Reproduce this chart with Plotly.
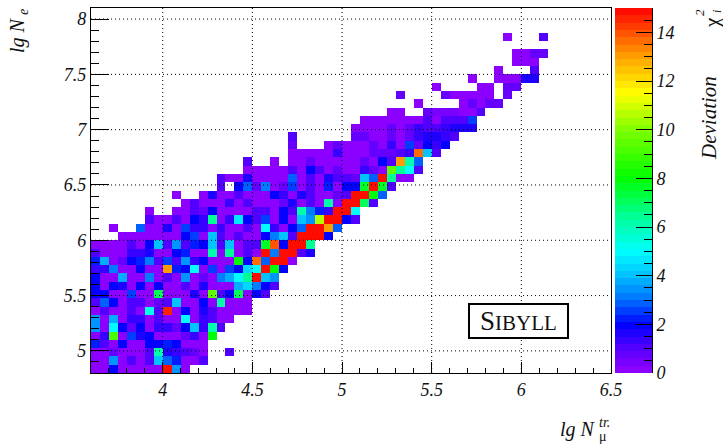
import plotly.graph_objects as go

v = 0.12
N = None

# lg N_mu (x) bins: 3.6 + 0.05*i, lg N_e (y) bins: 4.8 + 0.075*j. Rows run bottom to top.
x_start, x_step, x_end = 3.6, 0.05, 6.5
y_start, y_step, y_end = 4.8, 0.075, 8.1

first_col = [0,0,0,0,0,0,0,0,0,0,0,0,0,0,0,0,3,2,6,6,10,9,14,14,17,17,22,22,22,29,30,33,36,34,38,42,45,47,47,47,46]

cell_values = [
 [v,v,1.8,v,v,v,v,v,15,3.5,v],
 [v,v,3.3,v,1,v,1,4,2.8,2.3,v,v,1],
 [v,v,.8,v,v,v,1,6,1.6,1.2,1,.7,v,N,N,1],
 [2.3,1,v,2,v,v,1.9,1.9,2.3,1.8,v,v,v],
 [v,1.2,9,v,2.4,1.6,2,v,v,v,.7,1.2,v,8],
 [3.5,v,4.8,1.8,.8,2,v,1.2,1.3,.8,2,4,1.2,6,1],
 [3.5,v,3.8,v,1.3,1.3,v,1.1,v,v,5,v,1.2,1,v,v],
 [v,1.1,v,v,.9,v,5.2,1,14.5,v,1.9,v,1.7,1,v,v,v,v],
 [1,2.8,1.9,v,1,.9,v,.8,1,4,v,v,1.9,v,6,v,v,v],
 [2,2,v,v,2.5,v,v,7,v,v,v,1.7,v,9.5,1,1.8,7,v,2,1],
 [2,v,1.9,1.5,v,1.8,v,1.9,v,v,1,v,1.5,v,v,v,3.7,4.2,3,1.8,1],
 [2,v,v,3.6,v,v,3,v,1,v,3.3,v,.8,v,3,3.8,5,6.5,15,4,3.5],
 [1.2,1.2,3,v,v,2,v,v,13,2.3,1.8,5,v,2.5,v,2.6,2,4.2,5,15,8,1.9],
 [2.2,3.8,v,.8,2,2.2,3,1,2.5,1,3.5,1.3,2,v,v,v,8,2,13.5,2.7,15,15,v],
 [1,v,v,v,1.2,1.3,1.7,v,v,2,2.3,v,v,6,v,6.5,v,1,v,15,3.2,15,15,1,1.5],
 [v,v,v,v,1.1,v,2,4,.9,3.3,1,2.3,2,4,1,4,v,1,1,7.5,14,2,15,15,6.5],
 [v,v,v,v,v,v,v,1.8,2.5,v,4,1,v,.9,v,v,1.9,3,4,1,15,15,15,1.9],
 [v,N,N,2.8,v,v,1.7,v,2.5,1.2,1.3,v,1.4,v,v,1.1,v,5,1.2,v,2,2.7,15,15,13,2.8],
 [1,v,v,1,v,1.9,1.2,6.5,v,1.2,4.5,1.8,1,2.6,v,1.8,v,4,3.5,10.5,15,15,2,1],
 [v,N,N,v,v,.9,.8,1.9,v,v,v,v,1,1,v,2,1,6,3,2.3,1.2,15,15,5],
 [v,1,v,v,v,1.2,v,1,v,v,v,.7,1.5,v,.9,v,6,v,15,15,7,1],
 [v,N,N,v,1.5,v,v,1,v,v,v,1.8,1.2,v,1.7,1.1,v,v,.8,1.1,15,15,8,2.8],
 [1,N,1.9,2.7,.8,3,v,.8,2.5,v,1.1,v,2.2,v,1.9,2,7.8,15,7.5,.9],
 [1.1,v,v,1.5,v,v,v,v,2.7,v,1,v,1.5,1,1,.8,4,2.7,15,6.5,v,v],
 [v,v,v,v,v,1,v,1.9,.9,v,.8,v,v,1.2,.7,v,9.5,6.5,5,1],
 [1,N,N,v,N,v,v,.8,v,v,v,v,v,.8,v,2,1,13,6,2.8],
 [v,v,v,v,v,1.4,v,v,v,.8,.8,.6,1,1.3,13.5,4,1],
 [.8,N,N,N,v,.8,v,v,v,.7,v,1.2,v,2.5,.8,2,1.3,2],
 [1,N,N,N,N,N,N,.8,.8,v,v,.7,v,.8,1.3,1.6,1.7,1.3,1.1],
 [v,v,v,v,.8,v,.7,1.2,.9,1,1.3,1.5,1.7,1.5],
 [v,v,v,v,v,v,v,.9,v,1.1,.9,.9,2.6],
 [v,v,N,N,.7,.5,.5,.5,v,v,1],
 [v,N,N,N,N,v,.7,v,.8,.8],
 [.7,N,N,N,N,.7,v,v,v,v,v,N,.8],
 [v,N,N,N,N,v,v,N,.8,.8],
 [v,N,N,v,v,v,1.6,1.6],
 [v,N,N,N,1],
 [v,v,v],
 [v,v,.7,.8],
 [],
 [v,N,N,N,.9],
]

x_ticks = [4, 4.5, 5, 5.5, 6, 6.5]
y_ticks = [5, 5.5, 6, 6.5, 7, 7.5, 8]
scale_ticks = [0, 2, 4, 6, 8, 10, 12, 14]
scale_max = 15
scale_bands = 50

palette_values = [0, 1, 2, 3, 4, 5, 6.5, 8, 10, 11.5, 13, 15]
palette_colors = [(148,0,255),(85,0,255),(0,0,255),(0,112,255),(0,192,255),(0,255,255),
                  (0,255,144),(0,255,0),(128,255,0),(255,255,0),(255,160,0),(255,0,0)]

W, H = 723, 445
ML, MR, MT, MB = 91, 71, 8, 72
PW, PH = W - ML - MR, H - MT - MB
def px(p): return (p - ML) / PW
def py(p): return 1 - (p - MT) / PH

n_rows = round((y_end - y_start) / y_step)
n_cols = round((x_end - x_start) / x_step)
z = [[None] * n_cols for _ in range(n_rows)]
for j, (start, vals) in enumerate(zip(first_col, cell_values)):
    for i, val in enumerate(vals):
        z[j][start + i] = val

def colour_at(val):
    for k in range(len(palette_values) - 1):
        a, b = palette_values[k], palette_values[k + 1]
        if val <= b:
            t = (val - a) / (b - a)
            c0, c1 = palette_colors[k], palette_colors[k + 1]
            return "rgb(%d,%d,%d)" % tuple(round(c0[m] + (c1[m] - c0[m]) * t) for m in range(3))
    return "rgb(255,0,0)"

colorscale = []
for b in range(scale_bands):
    col = colour_at((b + 0.5) * scale_max / scale_bands)
    colorscale.append([b / scale_bands, col])
    colorscale.append([(b + 1) / scale_bands, col])

band_step = scale_max / scale_bands
band_levels = [[(b + 0.5) * band_step] for b in range(scale_bands)]

fig = go.Figure()
fig.add_trace(go.Heatmap(z=z, x0=x_start + x_step / 2, dx=x_step, y0=y_start + y_step / 2, dy=y_step,
                         zmin=0, zmax=scale_max, colorscale=colorscale, showscale=False,
                         hoverongaps=False, xgap=0, ygap=0))
fig.add_trace(go.Heatmap(z=band_levels, x=[0], y0=band_step / 2, dy=band_step,
                         zmin=0, zmax=scale_max, colorscale=colorscale, showscale=False,
                         xaxis="x2", yaxis="y2"))

tick_font = dict(family="Liberation Serif", size=18, color="#111", style="italic")
black = "#000"

fig.update_layout(
    width=W, height=H, margin=dict(l=ML, r=MR, t=MT, b=MB, autoexpand=False),
    paper_bgcolor="white", plot_bgcolor="white", showlegend=False,
    xaxis=dict(domain=[0, px(611)], range=[x_start, x_end], tickmode="array", tickvals=x_ticks,
               ticks="inside", ticklen=11, tickwidth=1, tickcolor=black, tickfont=tick_font,
               showgrid=False, zeroline=False, showline=True, linecolor=black, linewidth=1.2, mirror=True,
               minor=dict(dtick=0.1, tick0=4, ticks="inside", ticklen=5, tickwidth=1, tickcolor=black, showgrid=False)),
    yaxis=dict(domain=[0, 1], range=[y_start, y_end], tickmode="array", tickvals=y_ticks,
               ticks="inside", ticklen=18, tickwidth=1, tickcolor=black, tickfont=tick_font,
               showgrid=False, zeroline=False, showline=True, linecolor=black, linewidth=1.2, mirror=True,
               minor=dict(dtick=0.1, tick0=5, ticks="inside", ticklen=8, tickwidth=1, tickcolor=black, showgrid=False)),
    xaxis2=dict(domain=[px(615), 1], range=[-0.5, 0.5], visible=False, anchor="y2"),
    yaxis2=dict(domain=[0, 1], range=[0, scale_max], anchor="x2", side="right", tickmode="array",
                tickvals=scale_ticks, ticks="inside", ticklen=16, tickwidth=1, tickcolor=black,
                tickfont=tick_font, showgrid=False, zeroline=False, showline=True, linecolor=black, linewidth=1,
                minor=dict(dtick=0.5, tick0=0, ticks="inside", ticklen=8, tickwidth=1, tickcolor=black, showgrid=False)),
)

for t in x_ticks[:-1]:
    fig.add_shape(type="line", xref="x", yref="y domain", x0=t, x1=t, y0=0, y1=1, layer="above",
                  line=dict(color="black", width=1, dash="1px,3px"))
for t in y_ticks:
    fig.add_shape(type="line", xref="x domain", yref="y", x0=0, x1=1, y0=t, y1=t, layer="above",
                  line=dict(color="black", width=1, dash="1px,3px"))

def label(text, x, y, size, angle=0, italic=True):
    fig.add_annotation(text=text, xref="paper", yref="paper", x=px(x), y=py(y), showarrow=False,
                       xanchor="center", yanchor="middle", textangle=angle,
                       font=dict(family="Liberation Serif", size=size, color="#111",
                                 style="italic" if italic else "normal"))

label("lg N", 578, 430, 20)
label("tr.", 604, 422, 14)
label("μ", 603, 436, 14, italic=False)
label("lg N", 17, 35, 20, angle=-90)
label("e", 24, 12, 14, angle=-90)
label("χ", 712, 23, 21, angle=-90, italic=False)
label("2", 700, 12, 13, angle=-90)
label("i", 717, 12, 12, angle=-90)
label("Deviation", 709, 118, 21, angle=-90)

fig.add_annotation(text="S<span style='font-size:21px'>IBYLL</span>", xref="paper", yref="paper",
                   x=px(518.5), y=py(321), showarrow=False, xanchor="center", yanchor="middle",
                   width=97, height=32, align="center", valign="middle",
                   bordercolor="black", borderwidth=2, borderpad=0, bgcolor="white",
                   font=dict(family="Liberation Serif", size=27, color="#111"))

fig.write_html("out.html", config={"displayModeBar": False},
               post_script="document.body.style.margin='0';document.body.style.overflow='hidden';")
